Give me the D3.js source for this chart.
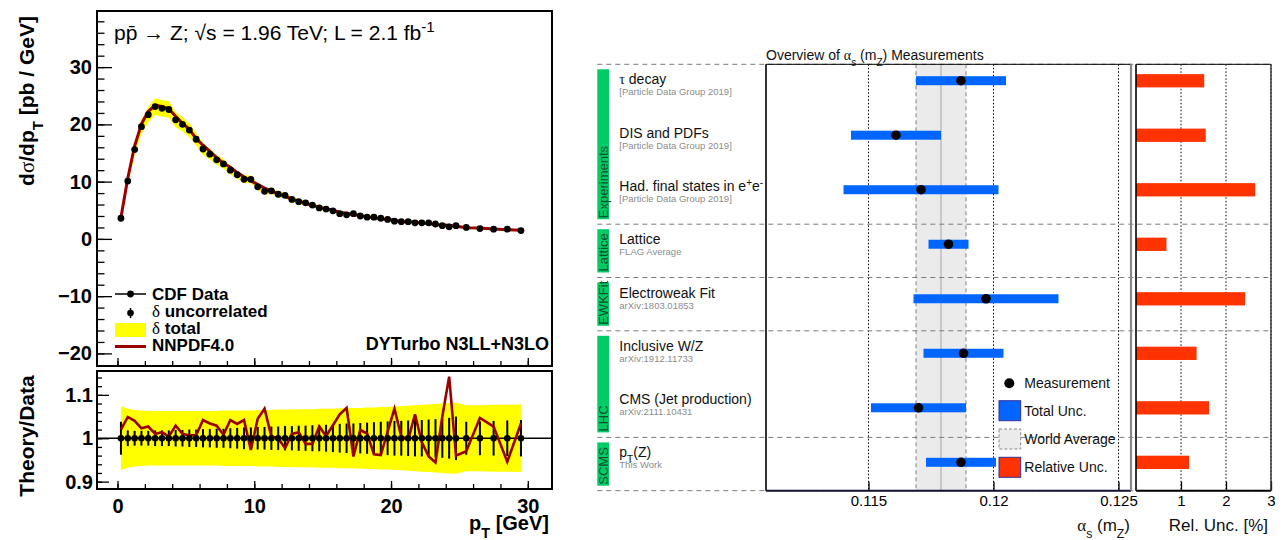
<!DOCTYPE html>
<html lang="en">
<head>
<meta charset="utf-8">
<title>Z pT spectrum and alpha_s overview</title>
<script src="https://cdn.jsdelivr.net/npm/d3@7"></script>
<style>
  body { margin: 0; background: #fff; }
  svg { font-family: "Liberation Sans", Arial, Helvetica, sans-serif; }
</style>
</head>
<body>
<svg id="chart" width="1283" height="540"></svg>
<script>
// ---------------- left panel data : CDF Z pT ----------------
var ptCenters = [0.25,0.75,1.25,1.75,2.25,2.75,3.25,3.75,4.25,4.75,5.25,5.75,6.25,6.75,7.25,7.75,8.25,8.75,9.25,9.75,
                 10.25,10.75,11.25,11.75,12.25,12.75,13.25,13.75,14.25,14.75,15.25,15.75,16.25,16.75,17.25,17.75,18.25,18.75,19.25,19.75,
                 20.25,20.75,21.25,21.75,22.25,22.75,23.25,23.75,24.25,24.75,25.5,26.5,27.5,28.5,29.5];
var xsecData = [3.6,10.1,15.6,19.6,21.7,23.1,22.8,22.6,20.8,20.0,19.0,17.4,15.7,14.8,13.8,13.1,12.0,11.2,10.4,10.4,
                9.1,8.3,8.4,7.8,7.6,6.9,6.5,6.3,5.9,5.4,5.2,4.9,4.4,4.2,4.4,4.0,3.8,3.8,3.6,3.4,
                3.1,3.0,3.0,2.8,2.8,2.8,2.6,2.3,2.1,2.3,2.0,1.8,1.7,1.7,1.45];
var theoryRatio = [1.020,1.049,1.040,1.023,1.027,1.010,1.014,1.004,1.029,1.010,1.007,1.007,1.042,1.034,1.029,1.008,1.042,1.033,1.042,0.973,
                   1.045,1.068,1.004,1.000,0.977,1.010,1.014,0.987,0.987,1.027,1.005,1.030,1.055,1.070,0.958,1.019,1.011,0.963,0.961,1.015,
                   1.068,1.004,0.996,1.055,0.991,0.958,0.944,1.050,1.142,0.960,0.970,1.047,1.027,0.946,1.034];
var uncorrRel = [0.038,0.018,0.017,0.017,0.017,0.018,0.018,0.018,0.019,0.019,0.020,0.020,0.021,0.021,0.022,0.022,0.023,0.024,0.025,0.025,
                 0.026,0.026,0.027,0.027,0.028,0.028,0.029,0.029,0.030,0.030,0.031,0.032,0.033,0.034,0.034,0.035,0.036,0.037,0.038,0.039,
                 0.040,0.040,0.041,0.042,0.042,0.043,0.044,0.045,0.047,0.050,0.038,0.039,0.040,0.041,0.042];
var totalRel = [0.074,0.068,0.065,0.064,0.063,0.063,0.063,0.063,0.063,0.063,0.063,0.063,0.063,0.063,0.063,0.064,0.064,0.064,0.064,0.064,
                0.065,0.065,0.065,0.066,0.066,0.066,0.067,0.067,0.067,0.068,0.068,0.068,0.069,0.069,0.070,0.070,0.071,0.071,0.072,0.072,
                0.073,0.074,0.075,0.076,0.077,0.078,0.079,0.080,0.081,0.082,0.076,0.076,0.077,0.077,0.078];
var specTicks = [-20, -10, 0, 10, 20, 30];
var ratioTicks = [0.9, 1, 1.1];
var ptTicks = [0, 10, 20, 30];

// ---------------- right panel data : alpha_s overview ----------------
var measLabels = ["#{τ} decay", "DIS and PDFs", "Had. final states in e^{+}e^{-}", "Lattice",
                  "Electroweak Fit", "Inclusive W/Z", "CMS (Jet production)", "p_{T}(Z)"];
var measRefs = ["[Particle Data Group 2019]", "[Particle Data Group 2019]", "[Particle Data Group 2019]", "FLAG Average",
                "arXiv:1803.01853", "arXiv:1912.11733", "arXiv:2111.10431", "This Work"];
var measValues = [0.1187, 0.1161, 0.1171, 0.1182, 0.1197, 0.1188, 0.1170, 0.1187];
var measErrors = [0.0018, 0.0018, 0.0031, 0.0008, 0.0029, 0.0016, 0.0019, 0.0014];
var groupNames = ["Experiments", "Lattice", "EWKFit", "LHC", "SCMS"];
var groupSizes = [3, 1, 1, 2, 1];
var worldAverage = 0.1179, worldError = 0.0010;
var alphaTicks = [0.115, 0.12, 0.125];
var relTicks = [1, 2, 3];

var svg = d3.select("#chart");
var YELLOW = "#ffff00", DARKRED = "#990000", BLUE = "#0066ff", ORANGE = "#ff3300", GREEN = "#00cc66";

// small TLatex-like helper: _{sub} ^{sup} #{greek}
function rich(text, str) {
  str.split(/(_\{[^}]*\}|\^\{[^}]*\}|#\{[^}]*\})/).forEach(function(p) {
    if (!p) return;
    var t = text.append("tspan");
    if (p.indexOf("_{") === 0) t.attr("baseline-shift", "sub").attr("font-size", "72%").text(p.slice(2, -1));
    else if (p.indexOf("^{") === 0) t.attr("baseline-shift", "super").attr("font-size", "72%").text(p.slice(2, -1));
    else if (p.indexOf("#{") === 0) t.attr("font-family", "'Liberation Serif', 'DejaVu Serif', serif").attr("font-weight", "normal").text(p.slice(2, -1));
    else t.text(p);
  });
  return text;
}

function styleAxis(g, size, weight) {
  g.select(".domain").remove();
  g.selectAll(".tick line").attr("stroke", "#000").attr("stroke-width", 1.3);
  g.selectAll(".tick text").attr("font-size", size).attr("font-weight", weight)
    .attr("font-family", "'Liberation Sans', Arial, sans-serif").attr("fill", "#000");
}

// =========================== LEFT PANEL ===========================
var L = {x0: 97, x1: 552, t0: 11, t1: 366, b0: 371, b1: 489};
var xPt = d3.scaleLinear().domain([-1.5, 31.77]).range([L.x0, L.x1]);
var ySpec = d3.scaleLinear().domain([-22.2, 39.8]).range([L.t1, L.t0]);
var yRat = d3.scaleLinear().domain([0.883, 1.155]).range([L.b1, L.b0]);

var pts = ptCenters.map(function(pt, i) {
  return {pt: pt, xs: xsecData[i], r: theoryRatio[i], unc: uncorrRel[i], tot: totalRel[i]};
});

var left = svg.append("g");

// upper pad: total band, theory, data
left.append("path").datum(pts)
  .attr("fill", YELLOW)
  .attr("d", d3.area().x(function(d) { return xPt(d.pt); })
    .y0(function(d) { return ySpec(d.xs * (1 - d.tot)); })
    .y1(function(d) { return ySpec(d.xs * (1 + d.tot)); }));

left.append("path").datum(pts)
  .attr("fill", "none").attr("stroke", DARKRED).attr("stroke-width", 3).attr("stroke-linejoin", "round")
  .attr("d", d3.line().x(function(d) { return xPt(d.pt); }).y(function(d) { return ySpec(d.xs * d.r); }));

left.selectAll(".ebU").data(pts).enter().append("line")
  .attr("x1", function(d) { return xPt(d.pt); }).attr("x2", function(d) { return xPt(d.pt); })
  .attr("y1", function(d) { return ySpec(d.xs * (1 - d.unc)); })
  .attr("y2", function(d) { return ySpec(d.xs * (1 + d.unc)); })
  .attr("stroke", "#000").attr("stroke-width", 1.5);

left.selectAll(".dotU").data(pts).enter().append("circle")
  .attr("cx", function(d) { return xPt(d.pt); }).attr("cy", function(d) { return ySpec(d.xs); })
  .attr("r", 3.4).attr("fill", "#000");

// lower pad
left.append("path").datum(pts)
  .attr("fill", YELLOW)
  .attr("d", d3.area().x(function(d) { return xPt(d.pt); })
    .y0(function(d) { return yRat(1 - d.tot); })
    .y1(function(d) { return yRat(1 + d.tot); }));

left.append("line").attr("x1", L.x0).attr("x2", L.x1).attr("y1", yRat(1)).attr("y2", yRat(1))
  .attr("stroke", "#000").attr("stroke-width", 1.5);

left.selectAll(".ebL").data(pts).enter().append("line")
  .attr("x1", function(d) { return xPt(d.pt); }).attr("x2", function(d) { return xPt(d.pt); })
  .attr("y1", function(d) { return yRat(1 - d.unc); })
  .attr("y2", function(d) { return yRat(1 + d.unc); })
  .attr("stroke", "#000").attr("stroke-width", 2);

left.append("path").datum(pts)
  .attr("fill", "none").attr("stroke", DARKRED).attr("stroke-width", 2.6).attr("stroke-linejoin", "miter")
  .attr("d", d3.line().x(function(d) { return xPt(d.pt); }).y(function(d) { return yRat(d.r); }));

left.selectAll(".dotL").data(pts).enter().append("circle")
  .attr("cx", function(d) { return xPt(d.pt); }).attr("cy", yRat(1))
  .attr("r", 3.3).attr("fill", "#000");

// axes (ROOT style, ticks inside)
var fmtSigned = function(d) { return d < 0 ? "\u2212" + Math.abs(d) : String(d); };
left.append("g").attr("transform", "translate(" + L.x0 + ",0)")
  .call(d3.axisLeft(ySpec).tickValues(d3.range(-20, 40, 2)).tickSize(-7.5).tickFormat(""))
  .call(styleAxis, 19, "bold");
left.append("g").attr("transform", "translate(" + L.x0 + ",0)")
  .call(d3.axisLeft(ySpec).tickValues(specTicks).tickSize(-15).tickPadding(5).tickFormat(fmtSigned))
  .call(styleAxis, 20, "bold");

left.append("g").attr("transform", "translate(" + L.x0 + ",0)")
  .call(d3.axisLeft(yRat).tickValues(d3.range(0.9, 1.15, 0.02)).tickSize(-5).tickFormat(""))
  .call(styleAxis, 19, "bold");
left.append("g").attr("transform", "translate(" + L.x0 + ",0)")
  .call(d3.axisLeft(yRat).tickValues(ratioTicks).tickSize(-12).tickPadding(4).tickFormat(function(d) { return String(d); }))
  .call(styleAxis, 20, "bold");

[L.t1, L.b1].forEach(function(yy, k) {
  left.append("g").attr("transform", "translate(0," + yy + ")")
    .call(d3.axisBottom(xPt).tickValues(d3.range(0, 32, 2)).tickSize(-5).tickFormat(""))
    .call(styleAxis, 19, "bold");
  left.append("g").attr("transform", "translate(0," + yy + ")")
    .call(d3.axisBottom(xPt).tickValues(ptTicks).tickSize(-8).tickPadding(10)
      .tickFormat(k === 1 ? function(d) { return String(d); } : ""))
    .call(styleAxis, 20, "bold");
});

// frames
left.append("rect").attr("x", L.x0).attr("y", L.t0).attr("width", L.x1 - L.x0).attr("height", L.t1 - L.t0)
  .attr("fill", "none").attr("stroke", "#000").attr("stroke-width", 2);
left.append("rect").attr("x", L.x0).attr("y", L.b0).attr("width", L.x1 - L.x0).attr("height", L.b1 - L.b0)
  .attr("fill", "none").attr("stroke", "#000").attr("stroke-width", 2);

// texts
rich(left.append("text").attr("x", 114).attr("y", 40).attr("font-size", 21),
     "pp\u0304 \u2192 Z; \u221As = 1.96 TeV; L = 2.1 fb^{-1}");

rich(left.append("text").attr("transform", "translate(34,101) rotate(-90)").attr("text-anchor", "middle")
  .attr("font-size", 21).attr("font-weight", "bold"), "d#{σ}/dp_{T} [pb / GeV]");
left.append("text").attr("transform", "translate(34,436) rotate(-90)").attr("text-anchor", "middle")
  .attr("font-size", 21).attr("font-weight", "bold").text("Theory/Data");
rich(left.append("text").attr("x", 549).attr("y", 530).attr("text-anchor", "end")
  .attr("font-size", 20).attr("font-weight", "bold"), "p_{T} [GeV]");

left.append("text").attr("x", 549).attr("y", 350).attr("text-anchor", "end")
  .attr("font-size", 18).attr("font-weight", "bold").text("DYTurbo N3LL+N3LO");

// legend
var lg = left.append("g").attr("font-size", 17).attr("font-weight", "bold");
lg.append("line").attr("x1", 115).attr("x2", 146).attr("y1", 294).attr("y2", 294).attr("stroke", "#000").attr("stroke-width", 1.5);
lg.append("circle").attr("cx", 130.5).attr("cy", 294).attr("r", 3.4);
lg.append("text").attr("x", 152).attr("y", 300).text("CDF Data");
lg.append("line").attr("x1", 130.5).attr("x2", 130.5).attr("y1", 308).attr("y2", 318).attr("stroke", "#000").attr("stroke-width", 1.5);
lg.append("circle").attr("cx", 130.5).attr("cy", 313).attr("r", 3.3);
rich(lg.append("text").attr("x", 152).attr("y", 317), "#{δ} uncorrelated");
lg.append("rect").attr("x", 115).attr("y", 323).attr("width", 31).attr("height", 14).attr("fill", YELLOW);
rich(lg.append("text").attr("x", 152).attr("y", 334), "#{δ} total");
lg.append("line").attr("x1", 115).attr("x2", 146).attr("y1", 346.5).attr("y2", 346.5).attr("stroke", DARKRED).attr("stroke-width", 3);
lg.append("text").attr("x", 152).attr("y", 351).text("NNPDF4.0");

// =========================== RIGHT PANEL ===========================
var R = {lx: 597.3, x0: 766, x1: 1131, rx0: 1136, rx1: 1271, y0: 64.3, y1: 490.7};
var xA = d3.scaleLinear().domain([0.1109, 0.1255]).range([R.x0, R.x1]);
var xRel = d3.scaleLinear().domain([0, 3]).range([R.rx0, R.rx1]);
var yRow = d3.scaleLinear().domain([0, measValues.length]).range([R.y0, R.y1]);
var yPt = d3.scaleLinear().domain([0, measValues.length - 1]).range([80.7, 462.3]);

var meas = measValues.map(function(v, i) {
  return {i: i, v: v, e: measErrors[i], rel: 100 * measErrors[i] / v, label: measLabels[i], ref: measRefs[i]};
});

var right = svg.append("g");

// title
rich(right.append("text").attr("x", 766).attr("y", 60).attr("font-size", 14).attr("fill", "#111"),
     "Overview of #{α}_{s} (m_{Z}) Measurements");

// world average band
right.append("rect").attr("x", xA(worldAverage - worldError)).attr("y", R.y0)
  .attr("width", xA(worldAverage + worldError) - xA(worldAverage - worldError)).attr("height", R.y1 - R.y0)
  .attr("fill", "#ebebeb");
[worldAverage - worldError, worldAverage + worldError].forEach(function(v) {
  right.append("line").attr("x1", xA(v)).attr("x2", xA(v)).attr("y1", R.y0).attr("y2", R.y1)
    .attr("stroke", "#808080").attr("stroke-width", 1).attr("stroke-dasharray", "4,3");
});
right.append("line").attr("x1", xA(worldAverage)).attr("x2", xA(worldAverage)).attr("y1", R.y0).attr("y2", R.y1)
  .attr("stroke", "#c0c0c0").attr("stroke-width", 1.6);

// dotted grid
alphaTicks.forEach(function(v) {
  right.append("line").attr("x1", xA(v)).attr("x2", xA(v)).attr("y1", R.y0).attr("y2", R.y1)
    .attr("stroke", "#000").attr("stroke-width", 1).attr("stroke-dasharray", "1.5,2");
});
relTicks.forEach(function(v) {
  right.append("line").attr("x1", xRel(v)).attr("x2", xRel(v)).attr("y1", R.y0).attr("y2", R.y1)
    .attr("stroke", "#000").attr("stroke-width", 1).attr("stroke-dasharray", "1.5,2");
});

// group separators and side bars
var cum = 0, bounds = [0];
groupSizes.forEach(function(n) { cum += n; bounds.push(cum); });
bounds.forEach(function(b) {
  right.append("line").attr("x1", R.lx).attr("x2", R.rx1).attr("y1", yRow(b)).attr("y2", yRow(b))
    .attr("stroke", "#7a7a7a").attr("stroke-width", 1).attr("stroke-dasharray", "5,4");
});
groupNames.forEach(function(name, g) {
  var top = yRow(bounds[g]) + 5, bot = yRow(bounds[g + 1]) - 5;
  right.append("rect").attr("x", R.lx).attr("y", top).attr("width", 11.7).attr("height", bot - top).attr("fill", GREEN);
  right.append("text").attr("transform", "translate(" + (R.lx + 10.5) + "," + (bot - 1) + ") rotate(-90)")
    .attr("font-size", 13).attr("fill", "#144d2c").text(name);
});

// labels
meas.forEach(function(d) {
  rich(right.append("text").attr("x", 619.3).attr("y", yRow(d.i) + 20).attr("font-size", 14).attr("fill", "#111"), d.label);
  right.append("text").attr("x", 619.3).attr("y", yRow(d.i) + 31).attr("font-size", 9.5).attr("fill", "#8c8c8c").text(d.ref);
});

// total uncertainty bars and points
right.selectAll(".tot").data(meas).enter().append("rect")
  .attr("x", function(d) { return xA(d.v - d.e); })
  .attr("width", function(d) { return xA(d.v + d.e) - xA(d.v - d.e); })
  .attr("y", function(d) { return yPt(d.i) - 4.5; }).attr("height", 9)
  .attr("fill", BLUE);
right.selectAll(".pt").data(meas).enter().append("circle")
  .attr("cx", function(d) { return xA(d.v); }).attr("cy", function(d) { return yPt(d.i); })
  .attr("r", 4.8).attr("fill", "#000");

// relative uncertainty bars
right.selectAll(".rel").data(meas).enter().append("rect")
  .attr("x", xRel(0)).attr("width", function(d) { return xRel(d.rel) - xRel(0); })
  .attr("y", function(d) { return yPt(d.i) - 6.6; }).attr("height", 13.3)
  .attr("fill", ORANGE);

// legend
var rl = right.append("g").attr("font-size", 14).attr("fill", "#111");
rl.append("circle").attr("cx", 1009.3).attr("cy", 383.3).attr("r", 5).attr("fill", "#000");
rl.append("text").attr("x", 1024.3).attr("y", 388.3).text("Measurement");
var legBoxes = [["Total Unc.", BLUE, "#333399", null], ["World Average", "#ebebeb", "#888", "3,2"], ["Relative Unc.", ORANGE, "#333399", null]];
legBoxes.forEach(function(b, k) {
  var y = 400.7 + k * 28.3;
  rl.append("rect").attr("x", 999).attr("y", y).attr("width", 21.7).attr("height", 20)
    .attr("fill", b[1]).attr("stroke", b[2]).attr("stroke-width", 1).attr("stroke-dasharray", b[3]);
  rl.append("text").attr("x", 1024.3).attr("y", y + 15).text(b[0]);
});

// axes
right.append("g").attr("transform", "translate(0," + R.y1 + ")")
  .call(d3.axisBottom(xA).tickValues(alphaTicks).tickSize(-9).tickPadding(5).tickFormat(function(d) { return String(d); }))
  .call(styleAxis, 15, "normal");
right.append("g").attr("transform", "translate(0," + R.y1 + ")")
  .call(d3.axisBottom(xRel).tickValues(relTicks).tickSize(-9).tickPadding(5).tickFormat(function(d) { return String(d); }))
  .call(styleAxis, 15, "normal");

// frames
right.append("line").attr("x1", R.x0).attr("x2", R.x1).attr("y1", R.y0).attr("y2", R.y0).attr("stroke", "#000").attr("stroke-width", 1);
right.append("line").attr("x1", R.x0).attr("x2", R.x0).attr("y1", R.y0).attr("y2", R.y1).attr("stroke", "#000").attr("stroke-width", 1.6);
right.append("line").attr("x1", R.x0).attr("x2", R.x1).attr("y1", R.y1).attr("y2", R.y1).attr("stroke", "#111133").attr("stroke-width", 2);
right.append("line").attr("x1", R.x1).attr("x2", R.x1).attr("y1", R.y0).attr("y2", R.y1).attr("stroke", "#888").attr("stroke-width", 2.2);
right.append("line").attr("x1", R.rx0).attr("x2", R.rx1).attr("y1", R.y0).attr("y2", R.y0).attr("stroke", "#000").attr("stroke-width", 1);
right.append("line").attr("x1", R.rx0).attr("x2", R.rx0).attr("y1", R.y0).attr("y2", R.y1).attr("stroke", "#000").attr("stroke-width", 1.6);
right.append("line").attr("x1", R.rx0).attr("x2", R.rx1).attr("y1", R.y1).attr("y2", R.y1).attr("stroke", "#000").attr("stroke-width", 2);
right.append("line").attr("x1", R.rx1).attr("x2", R.rx1).attr("y1", R.y0).attr("y2", R.y1).attr("stroke", "#333").attr("stroke-width", 1.4);

// axis titles
rich(right.append("text").attr("x", 1130).attr("y", 531).attr("text-anchor", "end").attr("font-size", 17).attr("fill", "#111"),
     "#{α}_{s} (m_{Z})");
right.append("text").attr("x", 1268).attr("y", 531).attr("text-anchor", "end").attr("font-size", 17).attr("fill", "#111")
  .text("Rel. Unc. [%]");
</script>
</body>
</html>
